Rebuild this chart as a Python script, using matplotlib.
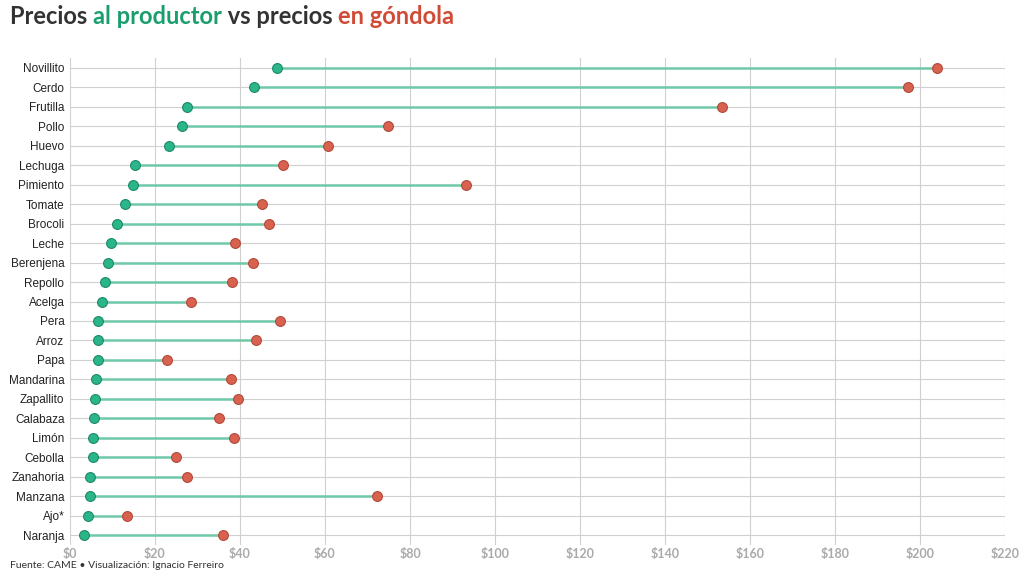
import matplotlib
matplotlib.use("Agg")
import matplotlib.pyplot as plt

categories = ["Novillito","Cerdo","Frutilla","Pollo","Huevo","Lechuga","Pimiento","Tomate","Brocoli","Leche","Berenjena","Repollo","Acelga","Pera","Arroz","Papa","Mandarina","Zapallito","Calabaza","Limón","Cebolla","Zanahoria","Manzana","Ajo*","Naranja"]
productor = [48.7,43.3,27.5,26.4,23.3,15.3,14.8,12.9,11.1,9.6,8.9,8.2,7.5,6.6,6.6,6.6,6.1,5.9,5.6,5.4,5.4,4.7,4.7,4.2,3.3]
gondola = [204,197.2,153.4,74.8,60.7,50.1,93.2,45.2,46.8,38.8,43.1,38.1,28.5,49.4,43.8,22.8,37.9,39.5,35.1,38.6,24.9,27.5,72.2,13.4,36.0]
xticks = [0,20,40,60,80,100,120,140,160,180,200,220]

green = "#2bb58a"; red = "#d9614f"
fig = plt.figure(figsize=(10.24,5.76), dpi=100)
ax = fig.add_axes([70/1024, 1-545/576, 935/1024, (545-58)/576])
n = len(categories)
ys = list(range(n))
for y, p, g in zip(ys, productor, gondola):
    ax.plot([p, g], [y, y], color="#6fc9a8", lw=1.8, zorder=2)
ax.scatter(gondola, ys, s=50, color=red, edgecolor="#b04a3a", lw=0.8, zorder=3)
ax.scatter(productor, ys, s=50, color=green, edgecolor="#1d8a66", lw=0.8, zorder=4)
ax.set_yticks(ys); ax.set_yticklabels(categories, fontsize=8.5, color="#222", family="Liberation Sans")
ax.set_ylim(n - 0.5, -0.5)
ax.set_xlim(0, 220)
ax.set_xticks(xticks)
ax.set_xticklabels([f"${v}" for v in xticks], fontsize=9, color="#aaa", family="Lato", fontweight="bold")
ax.grid(True, color="#d0d0d0", lw=0.8)
ax.set_axisbelow(True)
for s in ax.spines.values(): s.set_visible(False)
ax.tick_params(axis="y", length=0, pad=4)
ax.tick_params(axis="x", length=0, pad=2)

fs = 17
t = fig.text(10/1024, 1-17/576, "Precios ", fontsize=fs, fontweight="bold", family="Lato", color="#333", va="center")
fig.canvas.draw()
r = fig.canvas.get_renderer()
def nxt(prev, s, c):
    bb = prev.get_window_extent(r)
    return fig.text(bb.x1/1024, 1-17/576, s, fontsize=fs, fontweight="bold", family="Lato", color=c, va="center")
t = nxt(t, "al productor", "#1a9e6e")
t = nxt(t, " vs precios ", "#333")
t = nxt(t, "en góndola", "#d04a35")
fig.text(10/1024, 1-566/576, "Fuente: CAME • Visualización: Ignacio Ferreiro", fontsize=7.5, family="Lato", color="#333", va="center")
fig.savefig("out.png", dpi=100)
